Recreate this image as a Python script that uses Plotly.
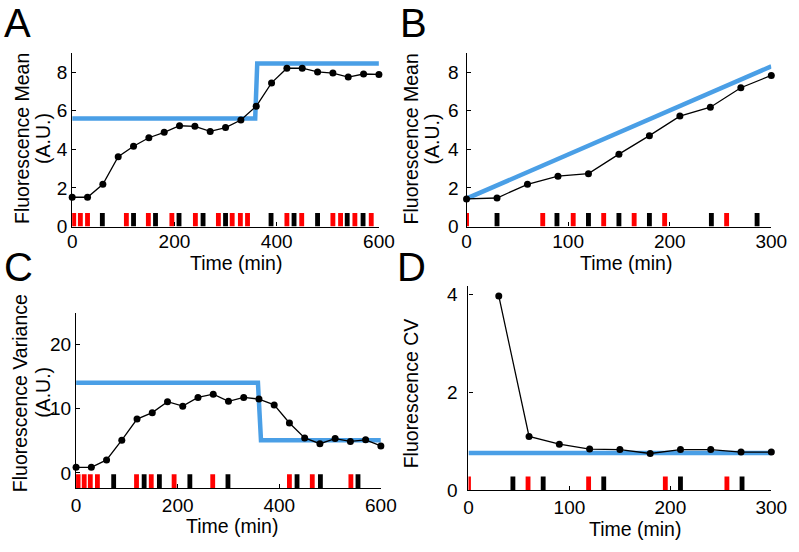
import plotly.graph_objects as go

# ---------------- data ----------------
# Panel A
time_A = [0, 30, 60, 90, 120, 150, 180, 210, 240, 270, 300, 330, 360, 390, 420, 450, 480, 510, 540, 570, 600]
mean_A = [1.52, 1.52, 2.19, 3.62, 4.16, 4.60, 4.88, 5.22, 5.19, 4.93, 5.13, 5.52, 6.23, 7.44, 8.20, 8.20, 8.01, 7.95, 7.74, 7.90, 7.88]
model_t_A = [0, 358, 362, 600]
model_A = [5.6, 5.6, 8.45, 8.45]
red_A = [3, 16, 30, 106, 149, 195, 241, 286, 313, 329, 343, 420, 449, 510, 525, 553, 585]
black_A = [59, 120, 163, 209, 256, 300, 389, 434, 480, 538, 569]

# Panel B
time_B = [0, 30, 60, 90, 120, 150, 180, 210, 240, 270, 300]
mean_B = [1.43, 1.48, 2.19, 2.61, 2.74, 3.75, 4.71, 5.72, 6.18, 7.19, 7.83]
model_t_B = [0, 300]
model_B = [1.45, 8.3]
red_B = [0, 75, 105, 135, 165, 195, 256]
black_B = [30, 89, 120, 150, 180, 241, 286]

# Panel C
time_C = [0, 30, 60, 90, 120, 150, 180, 210, 240, 270, 300, 330, 360, 390, 420, 450, 480, 510, 540, 570, 600]
var_C = [0.86, 0.86, 2.02, 5.10, 8.38, 9.39, 11.1, 10.4, 11.77, 12.27, 11.16, 11.77, 11.5, 10.6, 7.78, 5.45, 4.55, 5.35, 4.9, 5.15, 4.19]
model_t_C = [0, 358, 364, 600]
model_C = [14.05, 14.05, 5.1, 5.1]
red_C = [4, 16, 28, 42, 119, 148, 193, 269, 420, 465, 541]
black_C = [74, 134, 164, 224, 299, 435, 481, 555]

# Panel D
time_D = [30, 60, 90, 120, 150, 180, 210, 240, 270, 300]
cv_D = [3.97, 1.10, 0.94, 0.84, 0.83, 0.75, 0.83, 0.83, 0.78, 0.78]
model_t_D = [0, 300]
model_D = [0.76, 0.76]
red_D = [0, 59, 119, 195, 256]
black_D = [44, 74, 134, 210, 271]

# tick values
ticks_x_long = [0, 200, 400, 600]
ticks_x_short = [0, 100, 200, 300]
ticks_y_mean = [0, 2, 4, 6, 8]
ticks_y_var = [0, 10, 20]
ticks_y_cv = [0, 2, 4]

# ---------------- style ----------------
W, H = 799, 552
FONT = "Helvetica, Liberation Sans, Arial, sans-serif"
BLUE = "#4A9FE6"
RED = "#FF0000"


def px_x(p):
    return p / W


def px_y(p):
    return 1 - p / H


fig = go.Figure()

panels = [
    # suffix, t, y, model_t, model, red, black, bar_base, bar_h, bar_w
    ("", time_A, mean_A, model_t_A, model_A, red_A, black_A, 0.0, 0.71, 9.5),
    ("2", time_B, mean_B, model_t_B, model_B, red_B, black_B, 0.0, 0.71, 4.8),
    ("3", time_C, var_C, model_t_C, model_C, red_C, black_C, -2.4, 2.2, 9.5),
    ("4", time_D, cv_D, model_t_D, model_D, red_D, black_D, 0.0, 0.28, 4.8),
]

for suf, t, y, mt, my, reds, blacks, base, bh, bw in panels:
    xa, ya = "x" + suf, "y" + suf
    fig.add_trace(go.Bar(x=reds, y=[bh] * len(reds), base=base, width=bw,
                         marker=dict(color=RED, line=dict(width=0)),
                         xaxis=xa, yaxis=ya, hoverinfo="skip"))
    fig.add_trace(go.Bar(x=blacks, y=[bh] * len(blacks), base=base, width=bw,
                         marker=dict(color="black", line=dict(width=0)),
                         xaxis=xa, yaxis=ya, hoverinfo="skip"))
    fig.add_trace(go.Scatter(x=mt, y=my, mode="lines",
                             line=dict(color=BLUE, width=4.5),
                             xaxis=xa, yaxis=ya))
    fig.add_trace(go.Scatter(x=t, y=y, mode="lines+markers",
                             line=dict(color="black", width=1.3),
                             marker=dict(color="black", size=7),
                             cliponaxis=False, xaxis=xa, yaxis=ya))

axis_common = dict(showline=True, linecolor="black", linewidth=1.2,
                   ticks="inside", ticklen=4, tickcolor="black", tickwidth=1,
                   showgrid=False, zeroline=False, mirror=False,
                   tickfont=dict(size=19, family=FONT, color="black"))

layout = dict(
    width=W, height=H, margin=dict(l=0, r=0, t=0, b=0),
    plot_bgcolor="white", paper_bgcolor="white", showlegend=False,
    barmode="overlay", font=dict(family=FONT, size=19, color="black"),
    xaxis=dict(domain=[px_x(69), px_x(384)], range=[0, 600], tickvals=ticks_x_long, anchor="y",
               ticklabelstandoff=-2, **axis_common),
    yaxis=dict(domain=[px_y(230), px_y(52)], range=[0, 9], tickvals=ticks_y_mean, anchor="x", **axis_common),
    xaxis2=dict(domain=[px_x(474), px_x(787)], range=[0, 300], tickvals=ticks_x_short, anchor="y2",
                ticklabelstandoff=-2, **axis_common),
    yaxis2=dict(domain=[px_y(230), px_y(52)], range=[0, 9], tickvals=ticks_y_mean, anchor="x2",
                ticklabelstandoff=3, **axis_common),
    xaxis3=dict(domain=[px_x(73), px_x(386)], range=[0, 600], tickvals=ticks_x_long, anchor="y3", **axis_common),
    yaxis3=dict(domain=[px_y(498), px_y(318)], range=[-2.4, 25], tickvals=ticks_y_var, anchor="x3", **axis_common),
    xaxis4=dict(domain=[px_x(476), px_x(787)], range=[0, 300], tickvals=ticks_x_short, anchor="y4", **axis_common),
    yaxis4=dict(domain=[px_y(500), px_y(291)], range=[0, 4.17], tickvals=ticks_y_cv, anchor="x4",
                ticklabelstandoff=6, **axis_common),
)
fig.update_layout(**layout)

annotations = []


def add_text(text, x, y, size=19.5, angle=0):
    annotations.append(dict(text=text, x=px_x(x), y=px_y(y), xref="paper", yref="paper",
                            xanchor="center", yanchor="middle", showarrow=False,
                            textangle=angle, font=dict(size=size, family=FONT, color="black")))


# panel letters
add_text("A", 12.5, 22, size=40)
add_text("B", 420, 22, size=40)
add_text("C", 14, 271, size=40)
add_text("D", 417, 271, size=40)

# y titles
add_text("Fluorescence Mean", 16.7, 140, angle=-90)
add_text("(A.U.)", 38.3, 140, angle=-90)
add_text("Fluorescence Mean", 416.7, 140, angle=-90)
add_text("(A.U.)", 438.3, 140, angle=-90)
add_text("Fluorescence Variance", 15, 401, angle=-90)
add_text("(A.U.)", 38.3, 400, angle=-90)
add_text("Fluorescence CV", 416.7, 401, angle=-90)

# x titles
add_text("Time (min)", 237, 267)
add_text("Time (min)", 638, 267)
add_text("Time (min)", 233, 537)
add_text("Time (min)", 647, 540)

fig.update_layout(annotations=annotations)

fig.write_html("out.html", config={"displayModeBar": False},
               post_script="document.body.style.margin='0';document.body.style.overflow='hidden';")
